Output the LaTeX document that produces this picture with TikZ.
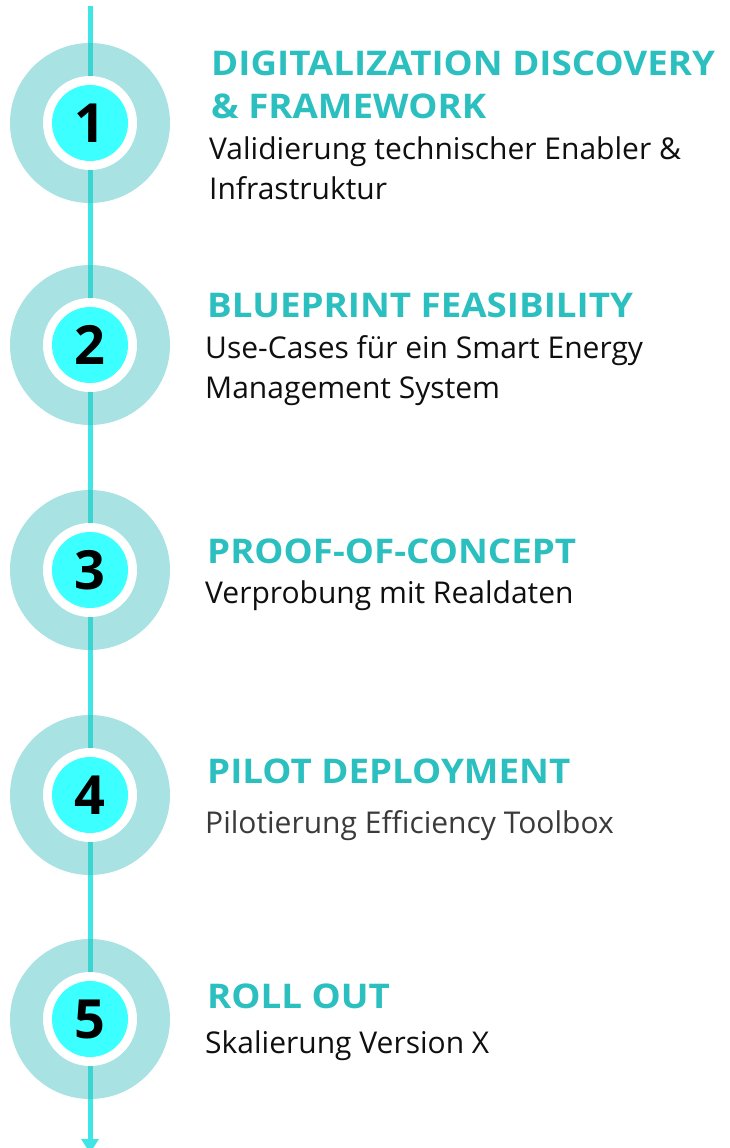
\documentclass[tikz,border=0pt]{standalone}
\usepackage{fontspec}
\setmainfont{Open Sans}
\newfontfamily\titlefont[FakeStretch=1.08]{Open Sans}
\usetikzlibrary{arrows.meta}
\definecolor{linecol}{RGB}{64,230,230}
\definecolor{ringcol}{RGB}{57,189,189}
\definecolor{corecol}{RGB}{60,255,255}
\definecolor{titlecol}{RGB}{43,191,191}
\definecolor{bodycol}{RGB}{15,15,15}
\definecolor{bodygray}{RGB}{58,58,58}
\tikzset{
  ring/.style={circle, fill=ringcol, fill opacity=0.44, minimum size=160pt, inner sep=0pt},
  gap/.style={circle, fill=white, minimum size=94pt, inner sep=0pt},
  core/.style={circle, fill=corecol, minimum size=76pt, inner sep=0pt,
    font=\fontsize{54}{54}\selectfont\bfseries, text=black},
  title/.style={anchor=base west, inner sep=0pt, align=left, text=titlecol,
    font=\titlefont\fontsize{34}{43}\selectfont\bfseries},
  body/.style={anchor=base west, inner sep=0pt, align=left, text=bodycol,
    font=\fontsize{30}{40}\selectfont},
  spine/.style={line width=5pt, draw=linecol, -{Triangle[width=17pt,length=14pt]}}
}
\begin{document}
\begin{tikzpicture}[x=1pt,y=-1pt]
\useasboundingbox (0,0) rectangle (730,1148);
\coordinate (top) at (90,6);
\coordinate (bottom) at (90,1153);
\draw[spine] (top) -- (bottom);
\foreach \n/\y in {1/123,2/345,3/570,4/795,5/1019}{
  \node[ring] (r\n) at (90,\y) {};
  \node[gap] (g\n) at (90,\y) {};
  \node[core] (c\n) at (90,\y) {\n};
}
% multi-line nodes: base anchor is the baseline of the last line
\node[title] (t1) at (211,118) {DIGITALIZATION DISCOVERY\\\& FRAMEWORK};
\node[body] (b1) at (209,199) {Validierung technischer Enabler \&\\Infrastruktur};
\node[title] (t2) at (207,317) {BLUEPRINT FEASIBILITY};
\node[body] (b2) at (205,398) {Use-Cases für ein Smart Energy\\Management System};
\node[title] (t3) at (207,563) {PROOF-OF-CONCEPT};
\node[body] (b3) at (205,603) {Verprobung mit Realdaten};
\node[title] (t4) at (207,783) {PILOT DEPLOYMENT};
\node[body, text=bodygray] (b4) at (205,833) {Pilotierung Efficiency Toolbox};
\node[title] (t5) at (207,1008) {ROLL OUT};
\node[body] (b5) at (205,1053) {Skalierung Version X};
\end{tikzpicture}
\end{document}
